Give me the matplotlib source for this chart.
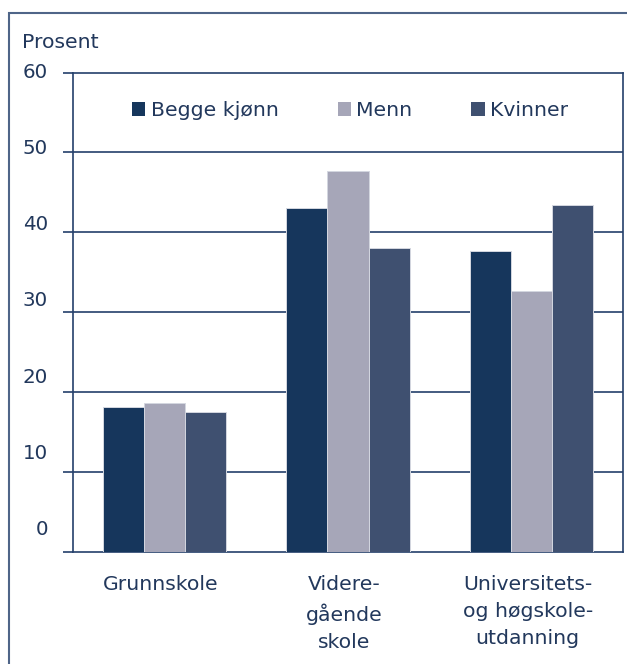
import matplotlib.pyplot as plt
import numpy as np
from matplotlib.patches import Rectangle

# Utdanningsnivå, prosent
kategorier = ['Grunnskole', 'Videre-\ngående\nskole', 'Universitets-\nog høgskole-\nutdanning']
serier = ['Begge kjønn', 'Menn', 'Kvinner']
begge = [18.2, 43.1, 37.7]
menn = [18.7, 47.7, 32.7]
kvinner = [17.5, 38.0, 43.4]
y_ticks = [0, 10, 20, 30, 40, 50, 60]

farger = ['#16365c', '#a6a6b8', '#3f5070']
tekst = '#22385c'
linje = '#24406b'
fs = 14.7

plt.rcParams['font.family'] = ['DejaVu Sans']

fig = plt.figure(figsize=(6.27, 6.64), dpi=100)
ax = fig.add_axes([73 / 627, 112 / 664, 550 / 627, 479.5 / 664])

x = np.arange(len(kategorier))
w = 0.224
for i, (navn, verdier) in enumerate(zip(serier, [begge, menn, kvinner])):
    ax.bar(x + (i - 1) * w, verdier, w, color=farger[i], label=navn,
           edgecolor='#d4d7e0', linewidth=0.7, zorder=3)

ax.set_xlim(-0.5, 2.5)
ax.set_ylim(0, 60)
for v in y_ticks[1:-1]:
    ax.axhline(v, color=linje, lw=1.2, zorder=1)

for s in ax.spines.values():
    s.set_color(linje)
    s.set_linewidth(1.2)

# y-akse: ticks utenfor, tallene litt forskjøvet oppover
ax.set_yticks(y_ticks)
ax.set_yticklabels([])
ax.tick_params(axis='y', length=7, width=1.2, color=linje)
ax.set_xticks([])
for v in y_ticks:
    ax.text(-0.045, 60 - (60 - v) * 0.953, str(v), transform=ax.get_yaxis_transform(),
            ha='right', va='center', fontsize=14.3, color=tekst)

for i, k in enumerate(kategorier):
    ax.text(i - 0.02, -0.049, k, transform=ax.get_xaxis_transform(), ha='center', va='top',
            fontsize=fs, color=tekst, linespacing=1.52)

fig.text(22 / 627, 1 - 42 / 664, 'Prosent', ha='left', va='center', fontsize=fs, color=tekst)

leg = ax.legend(loc='center left', bbox_to_anchor=(0.089, 0.92), ncol=3, frameon=False,
                handlelength=0.65, handleheight=0.65, handletextpad=0.25, columnspacing=2.9,
                borderpad=0, prop={'size': fs})
for t in leg.get_texts():
    t.set_color(tekst)
for h in leg.legend_handles:
    h.set_edgecolor('none')

# ytre ramme rundt figuren
fig.patches.append(Rectangle((9 / 627, -0.1), 1.2, 1 - 12.7 / 664 + 0.1, transform=fig.transFigure,
                             fill=False, edgecolor='#4f6588', lw=1.5))

fig.savefig('out.png', dpi=100)
